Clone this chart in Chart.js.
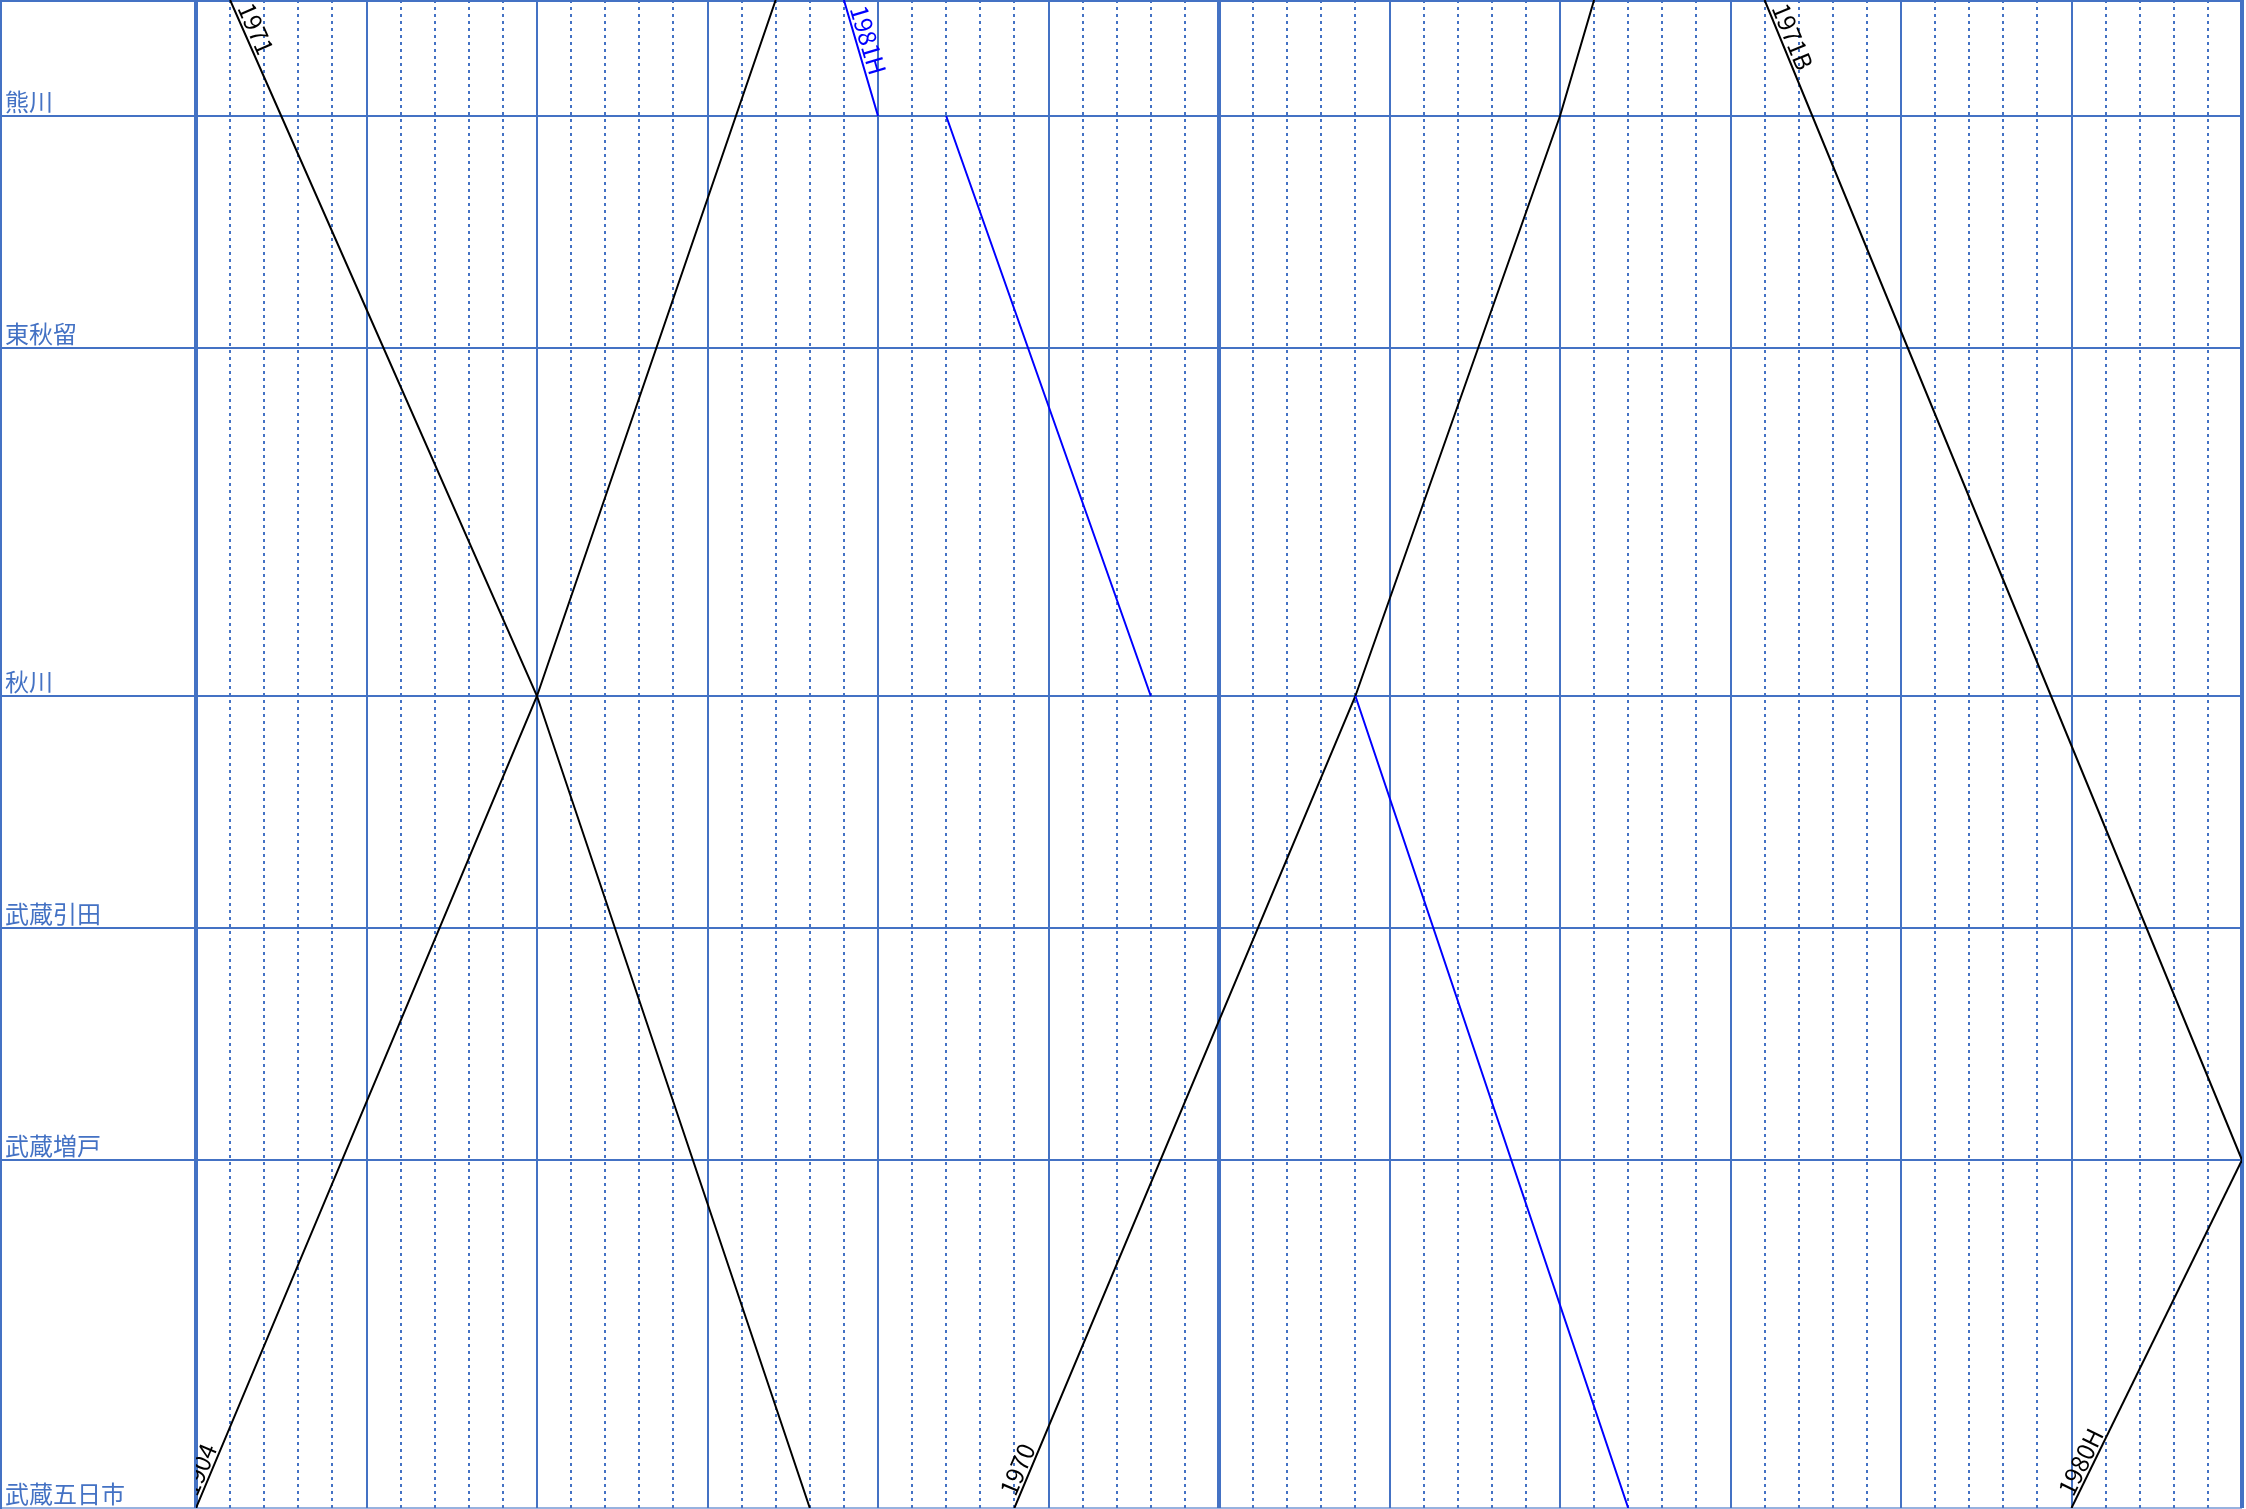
<!DOCTYPE html>
<html lang="ja">
<head>
<meta charset="utf-8">
<title>五日市線 ダイヤグラム</title>
<script src="https://cdn.jsdelivr.net/npm/chart.js@4/dist/chart.umd.min.js"></script>
<style>
    html, body { margin: 0; padding: 0; background: #fff; }
    canvas { display: block; }
</style>
</head>
<body>
<canvas id="diagram" width="2246" height="1509"></canvas>
<script>
// stations, top to bottom, and their distance position on the y axis
const stationNames = ['', '熊川', '東秋留', '秋川', '武蔵引田', '武蔵増戸', '武蔵五日市'];
const stationPos = [0, 1, 3, 6, 8, 10, 13];

// train runs: minute past the hour and station position (null = stop, line broken)
const train1904Min = [0, 10, 17];
const train1904Pos = [13, 6, 0];
const train1971Min = [1, 2.5, 10, 18];
const train1971Pos = [0, 1, 6, 13];
const train1981HMin = [19, 20, null, 22, 28, null, 34, 42];
const train1981HPos = [0, 1, null, 1, 6, null, 6, 13];
const train1970Min = [24, 34, 40, 41];
const train1970Pos = [13, 6, 1, 0];
const train1971BMin = [46, 47.4, 60];
const train1971BPos = [0, 1, 10];
const train1980HMin = [55, 60];
const train1980HPos = [13, 10];

const gridBlue = '#4472C4';

function toPoints(mins, pos) {
    return mins.map((m, i) => m === null ? { x: NaN, y: NaN } : { x: m, y: pos[i] });
}

function train(label, mins, pos, color) {
    return {
        label: label,
        data: toPoints(mins, pos),
        borderColor: color,
        borderWidth: 2,
        pointRadius: 0,
        spanGaps: false,
        tension: 0
    };
}

// writes the train number along the start of each run
const trainLabels = {
    id: 'trainLabels',
    afterDatasetsDraw(chart) {
        const { ctx, chartArea } = chart;
        ctx.save();
        ctx.beginPath();
        ctx.rect(chartArea.left, chartArea.top, chartArea.right - chartArea.left, chartArea.bottom - chartArea.top);
        ctx.clip();
        chart.data.datasets.forEach((ds, i) => {
            const pts = chart.getDatasetMeta(i).data;
            if (pts.length < 2) return;
            const p0 = pts[0], p1 = pts[1];
            const angle = Math.atan2(p1.y - p0.y, p1.x - p0.x);
            ctx.save();
            ctx.translate(p0.x, p0.y);
            ctx.rotate(angle);
            ctx.font = '24px "Noto Sans CJK JP", "Noto Sans", sans-serif';
            ctx.fillStyle = ds.borderColor;
            ctx.textAlign = 'left';
            ctx.textBaseline = 'alphabetic';
            ctx.fillText(ds.label, 10, -3);
            ctx.restore();
        });
        ctx.restore();
    }
};

const frame = {
    id: 'frame',
    afterDraw(chart) {
        const ctx = chart.ctx;
        ctx.save();
        ctx.fillStyle = gridBlue;
        ctx.fillRect(0, 0, 2, chart.height);
        ctx.restore();
    }
};

document.addEventListener('DOMContentLoaded', function () {
    const ctx = document.getElementById('diagram');

    new Chart(ctx, {
        type: 'line',
        data: {
            datasets: [
                train('1904', train1904Min, train1904Pos, '#000000'),
                train('1971', train1971Min, train1971Pos, '#000000'),
                train('1981H', train1981HMin, train1981HPos, '#0000FF'),
                train('1970', train1970Min, train1970Pos, '#000000'),
                train('1971B', train1971BMin, train1971BPos, '#000000'),
                train('1980H', train1980HMin, train1980HPos, '#000000')
            ]
        },
        options: {
            responsive: false,
            animation: false,
            devicePixelRatio: 1,
            events: [],
            layout: { padding: { left: 5, right: 4, top: 0, bottom: 1 } },
            plugins: {
                legend: { display: false },
                tooltip: { enabled: false }
            },
            scales: {
                x: {
                    type: 'linear',
                    position: 'bottom',
                    min: 0,
                    max: 60,
                    afterBuildTicks: scale => {
                        scale.ticks = Array.from({ length: 13 }, (_, i) => ({ value: i * 5 }));
                    },
                    afterFit: scale => { scale.height = 0; },
                    ticks: { display: false },
                    border: { display: false },
                    grid: {
                        drawTicks: false,
                        color: gridBlue,
                        lineWidth: c => c.tick && c.tick.value % 30 === 0 ? 4 : 2
                    }
                },
                x2: {
                    type: 'linear',
                    axis: 'x',
                    position: 'bottom',
                    min: 0,
                    max: 60,
                    afterBuildTicks: scale => {
                        scale.ticks = Array.from({ length: 61 }, (_, i) => ({ value: i }));
                    },
                    afterFit: scale => { scale.height = 0; },
                    ticks: { display: false },
                    border: { display: false, dash: [3, 4] },
                    grid: {
                        drawTicks: false,
                        color: c => c.tick && c.tick.value % 5 === 0 ? 'rgba(0,0,0,0)' : gridBlue,
                        lineWidth: 2
                    }
                },
                y: {
                    type: 'linear',
                    position: 'left',
                    reverse: true,
                    min: 0,
                    max: 13,
                    afterBuildTicks: scale => {
                        scale.ticks = stationPos.map(v => ({ value: v }));
                    },
                    afterFit: scale => {
                        scale.width = 191;
                        scale.paddingTop = 0;
                        scale.paddingBottom = 0;
                    },
                    border: { display: false },
                    grid: {
                        color: c => c.tick && c.tick.value === 13 ? 'rgba(68,114,196,0.55)' : gridBlue,
                        lineWidth: c => c.tick && c.tick.value === 0 ? 4 : 2,
                        tickLength: 196,
                        tickColor: c => c.tick && c.tick.value === 13 ? 'rgba(68,114,196,0.55)' : gridBlue,
                        tickWidth: c => c.tick && c.tick.value === 0 ? 4 : 2
                    },
                    ticks: {
                        autoSkip: false,
                        crossAlign: 'far',
                        padding: 0,
                        labelOffset: -14,
                        color: gridBlue,
                        font: { family: '"Noto Sans CJK JP", sans-serif', size: 24 },
                        callback: value => stationNames[stationPos.indexOf(value)]
                    }
                }
            }
        },
        plugins: [trainLabels, frame]
    });
});
</script>
</body>
</html>
